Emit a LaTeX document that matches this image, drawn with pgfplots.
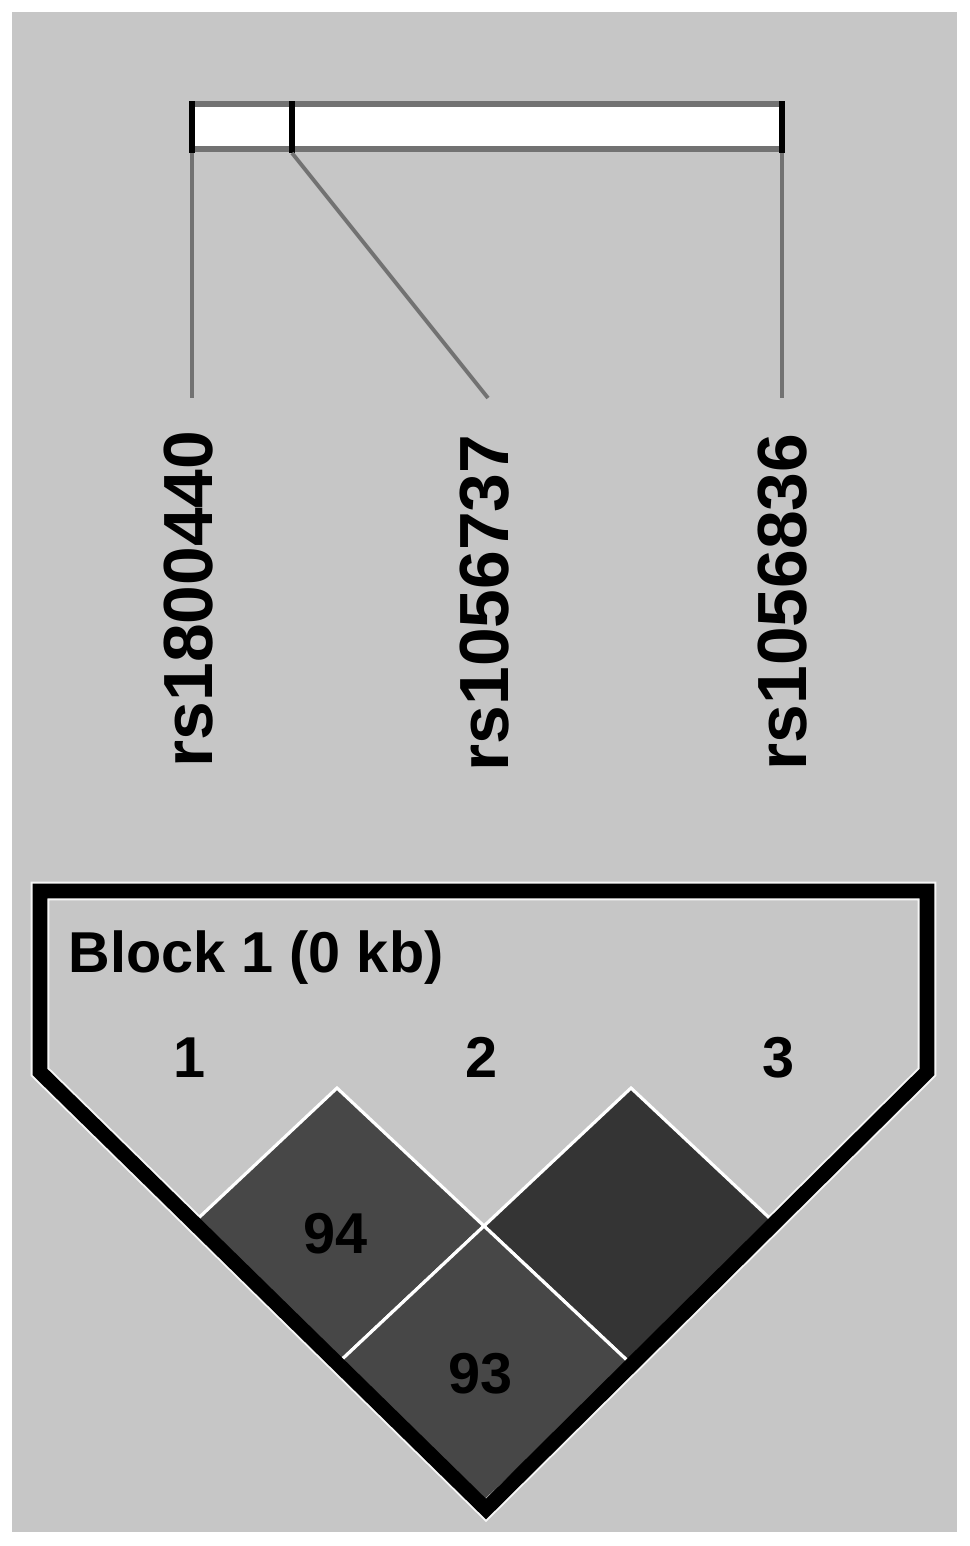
\documentclass[border=0pt]{standalone}
\usepackage{fontspec}
\setmainfont{Liberation Sans}
\usepackage{pgfplots}
\pgfplotsset{compat=1.18}
\definecolor{bg}{HTML}{C6C6C6}
\definecolor{ldA}{HTML}{474747}
\definecolor{ldB}{HTML}{343434}
\definecolor{tick}{HTML}{727272}

\begin{document}
\begin{tikzpicture}
\begin{axis}[
  scale only axis,
  width=96.9mm, height=154.6mm,
  xmin=0, xmax=969, ymin=0, ymax=1546,
  y dir=reverse,
  hide axis, clip=false,
  every axis plot/.append style={no marks},
]
% page and panel background
\addplot[fill=white, draw=none] coordinates {(0,0)(969,0)(969,1546)(0,1546)} -- cycle;
\addplot[fill=bg, draw=none] coordinates {(12,12)(957,12)(957,1532)(12,1532)} -- cycle;

% gene bar
\addplot[fill=white, draw=none] coordinates {(191,102)(783,102)(783,151)(191,151)} -- cycle;
\addplot[draw=tick, line width=1.5pt] coordinates {(190,104)(784,104)};
\addplot[draw=tick, line width=1.5pt] coordinates {(190,149)(784,149)};
\addplot[draw=black, line width=1.5pt] coordinates {(192,101)(192,153)};
\addplot[draw=black, line width=1.5pt] coordinates {(292,101)(292,153)};
\addplot[draw=black, line width=1.5pt] coordinates {(782,101)(782,153)};

% marker connectors
\addplot[draw=tick, line width=1.1pt] coordinates {(192,153)(192,398)};
\addplot[draw=tick, line width=1.1pt] coordinates {(292,153)(488,398)};
\addplot[draw=tick, line width=1.1pt] coordinates {(782,153)(782,398)};

% SNP names
\node[rotate=90, anchor=base east, inner sep=0, font=\fontsize{19.8}{22}\selectfont\bfseries] at (axis cs:212,430) {rs1800440};
\node[rotate=90, anchor=base east, inner sep=0, font=\fontsize{19.8}{22}\selectfont\bfseries] at (axis cs:508,434) {rs1056737};
\node[rotate=90, anchor=base east, inner sep=0, font=\fontsize{19.8}{22}\selectfont\bfseries] at (axis cs:806,433) {rs1056836};

% light halo of the block outline
\addplot[draw=white!85!bg, line width=5.3pt, line join=miter] coordinates {(40,1072)(40,891)(927,891)(927,1072)(486,1509)} -- cycle;

% LD diamonds (D')
\addplot[fill=ldA, draw=white, line width=0.9pt] coordinates {(337,1088)(484,1226)(337,1364)(190,1226)} -- cycle;
\addplot[fill=ldB, draw=white, line width=0.9pt] coordinates {(631,1088)(778,1226)(631,1364)(484,1226)} -- cycle;
\addplot[fill=ldA, draw=white, line width=0.9pt] coordinates {(484,1226)(631,1364)(484,1502)(337,1364)} -- cycle;

% block outline
\addplot[draw=black, line width=4.2pt, line join=miter] coordinates {(40,1072)(40,891)(927,891)(927,1072)(486,1509)} -- cycle;

% texts
\node[anchor=base west, inner sep=0, font=\fontsize{16.4}{18}\selectfont\bfseries] at (axis cs:68,972) {Block 1 (0 kb)};
\node[anchor=base, inner sep=0, font=\fontsize{16.4}{18}\selectfont\bfseries] at (axis cs:190,1077) {1};
\node[anchor=base, inner sep=0, font=\fontsize{16.4}{18}\selectfont\bfseries] at (axis cs:482,1077) {2};
\node[anchor=base, inner sep=0, font=\fontsize{16.4}{18}\selectfont\bfseries] at (axis cs:779,1077) {3};
\node[anchor=base, inner sep=0, font=\fontsize{16.4}{18}\selectfont\bfseries] at (axis cs:336,1253) {94};
\node[anchor=base, inner sep=0, font=\fontsize{16.4}{18}\selectfont\bfseries] at (axis cs:481,1393) {93};
\end{axis}
\end{tikzpicture}
\end{document}
